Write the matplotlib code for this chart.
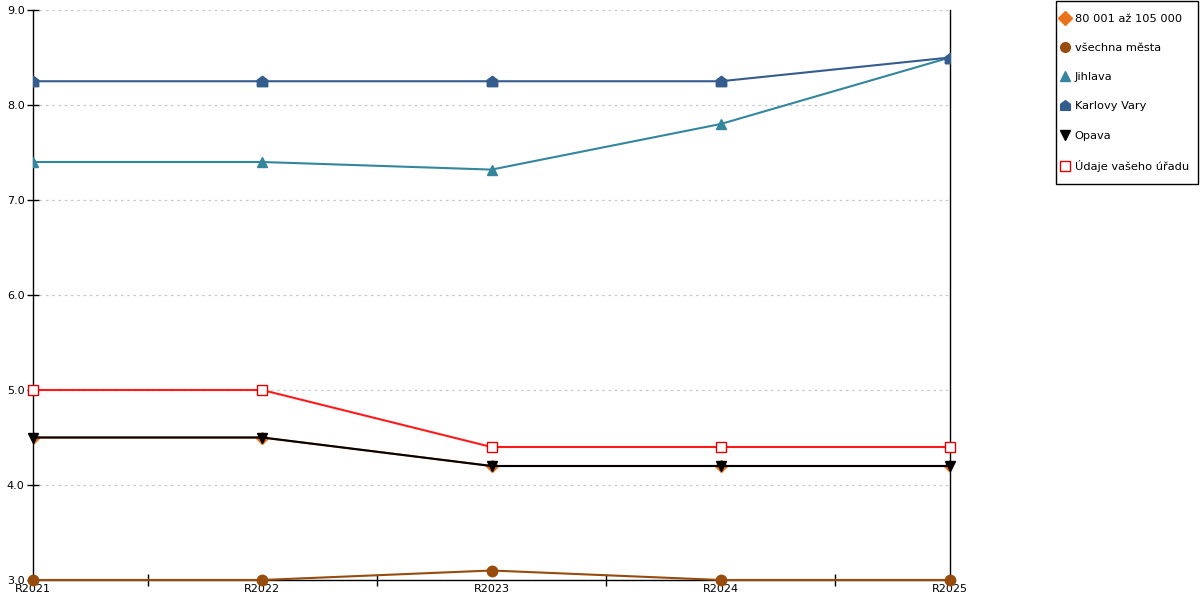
import matplotlib.pyplot as plt
import matplotlib.patches as mpatches
import numpy as np

plt.rcParams['font.family'] = ['DejaVu Sans']

roky = ['R2021', 'R2022', 'R2023', 'R2024', 'R2025']

kategorie = [4.5, 4.5, 4.2, 4.2, 4.2]        # 80 001 až 105 000
vsechna_mesta = [3.0, 3.0, 3.1, 3.0, 3.0]
jihlava = [7.4, 7.4, 7.32, 7.8, 8.5]
karlovy_vary = [8.25, 8.25, 8.25, 8.25, 8.5]
opava = [4.5, 4.5, 4.2, 4.2, 4.2]
urad = [5.0, 5.0, 4.4, 4.4, 4.4]

# marker ve tvaru domecku
domek = [(-1, -1), (1, -1), (1, 0.25), (0, 1), (-1, 0.25), (-1, -1)]

x = np.arange(len(roky))

fig = plt.figure(figsize=(12, 6), dpi=100)
ax = fig.add_axes([33 / 1200, 20 / 600, 917 / 1200, 570 / 600])

ax.plot(x, kategorie, color='#e8731a', lw=1.5, marker='D', ms=6,
        label='80 001 až 105 000', zorder=2)
ax.plot(x, vsechna_mesta, color='#974c0e', lw=1.5, marker='o', ms=7.5,
        label='všechna města', zorder=3, clip_on=False)
ax.plot(x, jihlava, color='#34869d', lw=1.5, marker='^', ms=7.5,
        label='Jihlava', zorder=3)
ax.plot(x, karlovy_vary, color='#345c8c', lw=1.5, marker=domek, ms=7.5,
        label='Karlovy Vary', zorder=3)
ax.plot(x, opava, color='black', lw=1.5, marker='v', ms=7.5,
        label='Opava', zorder=4, clip_on=False)
ax.plot(x, urad, color='#ff1a1a', lw=1.5, marker='s', ms=7.5, mfc='white',
        mec='#e00000', mew=1.0, label='Údaje vašeho úřadu', zorder=5,
        clip_on=False)

ax.set_xlim(0, 4)
ax.set_ylim(3.0, 9.0)
ax.set_yticks(np.arange(3, 10, 1.0))
ax.set_yticklabels([f'{v:.1f}' for v in np.arange(3, 10, 1.0)])
ax.set_xticks(x)
ax.set_xticklabels(roky)
ax.set_xticks(x[:-1] + 0.5, minor=True)
ax.tick_params(axis='x', which='major', length=0, labelsize=8, pad=3)
ax.tick_params(axis='x', which='minor', direction='inout', length=9, width=1)
ax.tick_params(axis='y', direction='inout', length=8, width=1, labelsize=8, pad=2)

ax.grid(axis='y', color='#c8c8c8', linestyle=(0, (2, 3)), lw=0.9)
ax.spines['top'].set_visible(False)
for s in ['left', 'right', 'bottom']:
    ax.spines[s].set_color('black')
    ax.spines[s].set_linewidth(1.0)

# ramecek legendy zvlast
ramecek = mpatches.Rectangle((1055.5 / 1200, 1 - 183.5 / 600), 142.5 / 1200, 183 / 600,
                             transform=fig.transFigure, fill=False,
                             edgecolor='black', lw=1.0)
fig.patches.append(ramecek)

handles, labels = ax.get_legend_handles_labels()
leg_handles = []
for h in handles:
    hh = plt.Line2D([], [], linestyle='none', marker=h.get_marker(),
                    color=h.get_color(), mfc=h.get_markerfacecolor(),
                    mec=h.get_markeredgecolor(), ms=7)
    leg_handles.append(hh)
leg = fig.legend(leg_handles, labels, loc='upper left',
                 bbox_to_anchor=(1062 / 1200, 1 - 14 / 600), fontsize=8.2,
                 frameon=False, labelspacing=1.68, handlelength=0.6,
                 handletextpad=0.5, borderpad=0, borderaxespad=0)

fig.savefig('out.png', dpi=100)
